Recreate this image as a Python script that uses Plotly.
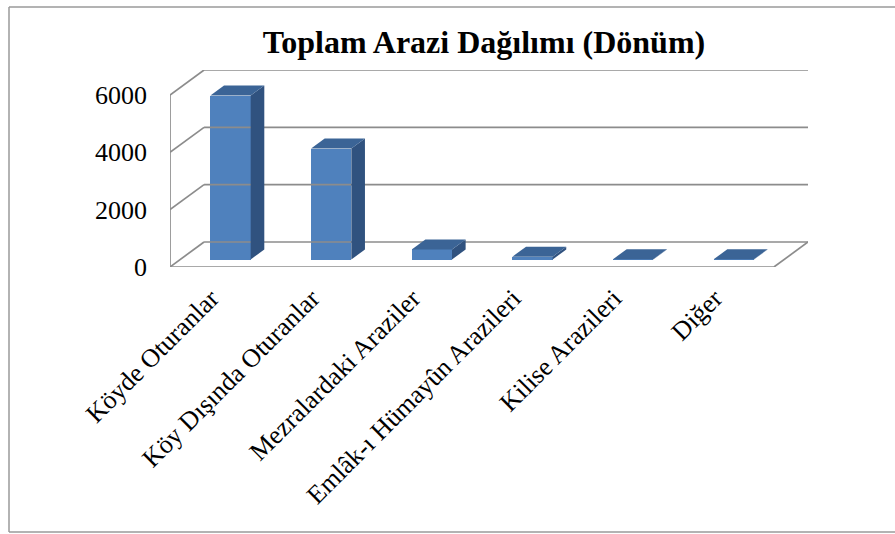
import plotly.graph_objects as go

# ---- data ----
categories = ["Köyde Oturanlar", "Köy Dışında Oturanlar", "Mezralardaki Araziler",
              "Emlâk-ı Hümayûn Arazileri", "Kilise Arazileri", "Diğer"]
values = [5720, 3870, 350, 100, 12, 8]
y_ticks = [0, 2000, 4000, 6000]
title_text = "Toplam Arazi Dağılımı (Dönüm)"

# ---- 3D-look geometry (style constants) ----
W, H = 895, 534
ML, MR, MT, MB = 170, 87, 70, 267
PX_PER_CAT = 100.5
PX_PER_UNIT = 28.67 / 1000.0
DEPTH_PX_X, DEPTH_PX_Y = 34, 25
DX = DEPTH_PX_X / PX_PER_CAT           # depth offset in category units
DY = DEPTH_PX_Y / PX_PER_UNIT          # depth offset in value units
YMAX = max(y_ticks)
BAR_W = 0.4
BAR_FRONT = 0.3                        # bar front at 30% of depth
BAR_DEPTH = 0.4                        # bar depth = 40% of depth
LABEL_SHIFT = -0.09
n = len(categories)

FONT = "Liberation Serif, Times New Roman, serif"
GRID = "#8c8c8c"
FRONT_C = "#4f81bd"
SIDE_C = "#30527f"
TOP_C = "#3b6496"

fig = go.Figure()

def line(xs, ys):
    fig.add_trace(go.Scatter(x=xs, y=ys, mode="lines",
                             line=dict(color=GRID, width=1.7),
                             hoverinfo="skip", showlegend=False))

# back wall gridlines and left wall diagonals
for t in y_ticks:
    line([-0.5 + DX, n - 0.5 + DX], [t + DY, t + DY])
    line([-0.5, -0.5 + DX], [t, t + DY])
# left wall front vertical
line([-0.5, -0.5], [0, YMAX])
# floor front edge and right diagonal
line([-0.5, n - 0.5], [0, 0])
line([n - 0.5, n - 0.5 + DX], [0, DY])

# bars: front faces
xc = [i + BAR_FRONT * DX for i in range(n)]
base = BAR_FRONT * DY
fig.add_trace(go.Bar(x=xc, y=values, base=[base] * n, width=BAR_W,
                     marker=dict(color=FRONT_C, line=dict(width=0)),
                     hoverinfo="skip", showlegend=False))

# bars: side and top faces
bdx, bdy = BAR_DEPTH * DX, BAR_DEPTH * DY
for x0, v in zip(xc, values):
    xl, xr = x0 - BAR_W / 2, x0 + BAR_W / 2
    top = base + v
    fig.add_trace(go.Scatter(
        x=[xr, xr, xr + bdx, xr + bdx, xr], y=[base, top, top + bdy, base + bdy, base],
        mode="lines", fill="toself", fillcolor=SIDE_C, line=dict(width=0, color=SIDE_C),
        hoverinfo="skip", showlegend=False))
    fig.add_trace(go.Scatter(
        x=[xl, xr, xr + bdx, xl + bdx, xl], y=[top, top, top + bdy, top + bdy, top],
        mode="lines", fill="toself", fillcolor=TOP_C, line=dict(width=0, color=TOP_C),
        hoverinfo="skip", showlegend=False))

# outer chart frame (page px: left 9, top 7, bottom 532, no right edge visible)
PW, PH = W - ML - MR, H - MT - MB
fx0 = (9 - ML) / PW
fx1 = (W + 20 - ML) / PW
fy0 = (H - MB - 532) / PH
fy1 = (H - MB - 7) / PH
frame = dict(color="#9a9a9a", width=1.5)
for (a, b, c, d) in [(fx0, fy0, fx0, fy1), (fx0, fy1, fx1, fy1), (fx0, fy0, fx1, fy0)]:
    fig.add_shape(type="line", xref="paper", yref="paper", x0=a, y0=b, x1=c, y1=d,
                  line=frame, layer="below")

fig.update_layout(
    width=W, height=H,
    margin=dict(l=ML, r=MR, t=MT, b=MB, pad=0),
    paper_bgcolor="white", plot_bgcolor="rgba(0,0,0,0)",
    hovermode=False,
    title=dict(text="<b>" + title_text + "</b>", x=484 / W, xanchor="center",
               y=1 - 42 / H, yanchor="middle",
               font=dict(family=FONT, size=32, color="black")),
    xaxis=dict(range=[-0.5, n - 0.5 + DX], tickmode="array",
               tickvals=[i + LABEL_SHIFT for i in range(n)], ticktext=categories,
               tickangle=-45,
               showgrid=False, zeroline=False, showline=False,
               ticks="", ticklabelstandoff=10,
               tickfont=dict(family=FONT, size=26, color="black"), fixedrange=True),
    yaxis=dict(range=[0, YMAX + DY], tickmode="array", tickvals=y_ticks,
               ticktext=[str(t) for t in y_ticks],
               showgrid=False, zeroline=False, showline=False,
               ticks="", ticklabelstandoff=22,
               tickfont=dict(family=FONT, size=26, color="black"), fixedrange=True),
    bargap=0,
)

fig.write_html("out.html",
               config={"displayModeBar": False, "staticPlot": True},
               post_script="document.documentElement.style.overflow='hidden';"
                           "document.body.style.margin='0px';"
                           "document.body.style.overflow='hidden';")
